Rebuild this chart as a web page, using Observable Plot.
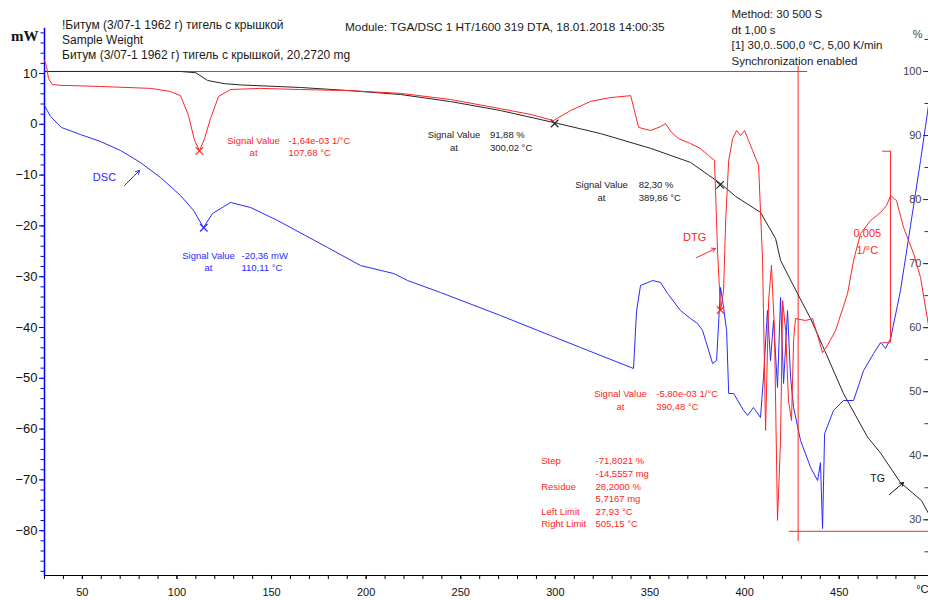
<!DOCTYPE html>
<html><head><meta charset="utf-8">
<script src="https://cdn.jsdelivr.net/npm/d3@7"></script>
<script src="https://cdn.jsdelivr.net/npm/@observablehq/plot@0.6"></script>
<style>
body{margin:0;background:#fff;}
#chart{position:relative;width:928px;height:600px;overflow:hidden;font-family:"Liberation Sans",Arial,sans-serif;background:#fff;}
#chart svg{position:absolute;left:0;top:0;}
.hdr{position:absolute;font-size:11.5px;color:#1a1a1a;white-space:pre;}
</style></head><body><div id="chart"></div>
<script>
// ---------- data (temperature axis °C) ----------
const xDomain = [30, 497.2];
const xLabelTicks = [50, 100, 150, 200, 250, 300, 350, 400, 450];
const yLeftTicks = [-80, -70, -60, -50, -40, -30, -20, -10, 0, 10];
const yRightTicks = [30, 40, 50, 60, 70, 80, 90, 100];

// DSC, mW
const dscT  = [30.0,33.2,39.0,49.0,59.6,70.2,80.7,91.3,101.9,108.8,114.0,118.8,128.3,138.9,153.2,179.6,197.0,214.5,221.9,239.3,271.0,297.4,313.3,341.3,342.9,345.0,351.4,355.6,359.3,366.1,371.4,375.1,377.8,379.4,383.1,385.2,387.3,388.9,390.5,391.6,394.2,399.5,401.6,404.7,408.4,410.0,412.1,413.7,415.3,417.4,419.0,420.6,422.7,424.3,425.9,429.6,434.9,438.6,440.1,441.2,442.3,447.0,452.3,457.6,462.9,468.2,471.9,474.5,477.2,482.4,487.7,493.0,497.2];
const dscMW = [3.70,1.54,-0.63,-2.01,-3.39,-5.16,-7.52,-10.47,-14.02,-16.97,-20.31,-17.56,-15.39,-16.38,-18.94,-24.25,-27.80,-29.37,-30.75,-33.11,-37.64,-41.58,-43.94,-48.07,-36.80,-31.73,-30.75,-31.14,-33.30,-36.65,-38.23,-39.21,-40.59,-42.56,-47.09,-46.50,-32.12,-36.06,-40.59,-52.99,-52.99,-56.34,-57.32,-55.75,-57.72,-49.84,-36.65,-46.50,-38.62,-51.80,-34.10,-51.01,-36.65,-49.84,-55.75,-62.26,-67.57,-70.13,-66.59,-79.57,-60.88,-56.34,-54.37,-54.37,-48.46,-45.11,-42.95,-44.13,-42.16,-32.71,-19.92,-7.13,3.70];

// TG, %
const tgT   = [30.0,101.9,110.0,116.2,125.0,133.6,165.3,191.7,218.2,244.6,271.0,299.6,323.9,350.3,371.4,387.3,395.2,408.4,416.4,419.0,428.0,434.9,441.2,452.3,465.0,471.9,482.4,493.5,497.2];
const tgPct = [100.0,100.0,99.8,98.6,98.1,97.9,97.5,97.0,96.4,95.3,93.9,92.0,90.3,88.0,85.8,82.5,80.5,78.0,73.9,70.5,65.3,61.4,57.2,49.7,42.9,40.4,35.8,33.0,31.0];

// DTG, 10^-3 1/°C
const dtgT = [30.0,31.1,32.1,34.2,38.5,59.6,86.0,96.6,101.9,106.1,109.3,111.9,114.6,117.7,122.0,128.3,144.2,165.3,191.7,218.2,244.6,271.0,286.9,299.0,308.0,318.6,329.2,339.8,341.8,344.0,350.3,355.6,358.2,361.4,365.1,371.4,376.7,380.9,384.1,385.7,387.3,388.9,390.0,391.6,393.7,395.8,397.9,400.0,402.1,404.2,407.4,409.5,411.1,412.7,414.2,415.8,417.4,419.0,420.1,421.7,423.2,424.8,425.9,426.9,432.2,435.9,438.6,441.2,443.8,448.1,454.4,457.6,461.3,466.6,471.9,475.0,477.2,480.3,484.0,489.3,493.0,497.2];
const dtgVal = [0.72,0.56,0.25,0.09,0.07,0.04,-0.01,-0.09,-0.20,-0.72,-1.37,-1.63,-1.32,-0.80,-0.22,-0.04,-0.01,-0.04,-0.07,-0.14,-0.30,-0.54,-0.69,-0.85,-0.59,-0.35,-0.25,-0.20,-0.59,-1.03,-1.11,-1.01,-0.93,-1.16,-1.32,-1.45,-1.58,-1.76,-1.89,-4.24,-5.81,-5.29,-3.46,-1.89,-1.32,-1.11,-1.24,-1.11,-1.37,-1.63,-2.02,-4.50,-8.94,-5.55,-4.63,-6.33,-11.29,-9.20,-5.55,-6.33,-8.16,-8.68,-6.59,-6.02,-6.07,-6.02,-6.46,-6.91,-6.72,-6.33,-5.37,-4.50,-3.80,-3.46,-3.25,-3.07,-2.81,-2.94,-3.64,-4.32,-4.95,-6.20];

// picked points (×)
const dscPicks = [{T:114.2, v:-20.36}];
const tgPicks  = [{T:299.6, v:91.88}, {T:387.1, v:82.30}];
const dtgPicks = [{T:111.9, v:-1.64}, {T:387.3, v:-5.80}];

// annotation texts (label column centre T, value column start T, y in series units)
const dscNotes = [{Tl:116.7, Tv:134.1, v:-27.0, label:"Signal Value\nat", value:"-20,36 mW\n110,11 °C"}];
const tgNotes  = [
  {Tl:246.4, Tv:265.4, v:89.23, label:"Signal Value\nat", value:"91,88 %\n300,02 °C"},
  {Tl:324.4, Tv:344.0, v:81.42, label:"Signal Value\nat", value:"82,30 %\n389,86 °C"}
];
const dtgNotes = [
  {Tl:140.5, Tv:159.0, v:-1.51, label:"Signal Value\nat", value:"-1,64e-03 1/°C\n107,68 °C"},
  {Tl:334.4, Tv:353.3, v:-8.13, label:"Signal Value\nat", value:"-5,80e-03 1/°C\n390,48 °C"}
];
const stepNote = [{Tl:292.5, Tv:321.2, v:34.37,
  label:"Step\n\u00a0\nResidue\n\u00a0\nLeft Limit\nRight Limit",
  value:"-71,8021 %\n-14,5557 mg\n28,2000 %\n5,7167 mg\n27,93 °C\n505,15 °C"}];

// step-evaluation lines (TG %)
const stepH = [{v:100, T1:30, T2:433.3}, {v:28.2, T1:423.6, T2:497.2}];
const stepV = [{T:428.3, v1:100.8, v2:26.6}];
// DTG scale bar 0,005 1/°C
const barV = [{T:477.1, v1:-1.65, v2:-6.65}];
const barH = [{v:-1.65, T1:473.0, T2:477.1}, {v:-6.65, T1:473.0, T2:477.1}];
const barLabel = [{T:464.9, v:-3.96, text:"0,005\n1/°C"}];

// curve labels with arrows
const dscLabel = [{T:61.7, v:-10.47, text:"DSC"}];
const dscArrow = [{T1:72.3, v1:-12.05, T2:80.2, v2:-9.09}];
const dtgLabel = [{T:373.6, v:-3.90, text:"DTG"}];
const dtgArrow = [{T1:374.6, v1:-4.43, T2:384.6, v2:-4.19}];
const tgLabel  = [{T:470.3, v:36.45, text:"TG"}];
const tgArrow  = [{T1:476.6, v1:33.95, T2:484.0, v2:35.82}];

const headerLeft = ["!Битум (3/07-1 1962 г) тигель с крышкой", "Sample Weight", "Битум (3/07-1 1962 г) тигель с крышкой, 20,2720 mg"];
const headerModule = "Module: TGA/DSC 1 HT/1600 319 DTA, 18.01.2018 14:00:35";
const headerRight = ["Method: 30 500 S", "dt 1,00 s", "[1] 30,0..500,0 °C, 5,00 K/min", "Synchronization enabled"];

// ---------- build ----------
const dsc = dscT.map((T, i) => ({T, v: dscMW[i]}));
const tg  = tgT.map((T, i) => ({T, v: tgPct[i]}));
const dtg = dtgT.map((T, i) => ({T, v: dtgVal[i]}));

const RED = "#ff2424", BLUE = "#2a2aff", BLACK = "#262626";
const FONT = '"Liberation Sans", Arial, sans-serif';
const base = (yDomain, yAxis) => ({
  width: 928, height: 600, marginLeft: 44, marginRight: 0, marginTop: 28, marginBottom: 25,
  x: {domain: xDomain, axis: null}, y: {domain: yDomain, axis: yAxis},
  style: {fontFamily: FONT, background: "transparent"}
});
const minus = d => d < 0 ? "\u2212" + (-d) : String(d);
const noteMarks = (notes, color, lh) => [
  Plot.text(notes, {x: "Tl", y: "v", text: "label", textAnchor: "middle", lineAnchor: "middle", lineHeight: lh, fontSize: 9.5, fill: color}),
  Plot.text(notes, {x: "Tv", y: "v", text: "value", textAnchor: "start", lineAnchor: "middle", lineHeight: lh, fontSize: 9.5, fill: color})
];

const plotDSC = Plot.plot({
  ...base([-88.82, 18.86], undefined),
  x: {domain: xDomain},
  marks: [
    Plot.axisX(d3.range(30, 497, 10), {tickSize: 4, tickFormat: () => "", label: null, stroke: "#000"}),
    Plot.axisX(xLabelTicks, {tickSize: 4, tickPadding: 9, fontSize: 11, label: null, stroke: "#000", fill: "#111"}),
    Plot.frame({anchor: "bottom", stroke: "#000", strokeWidth: 1.2}),
    Plot.axisY(d3.range(-88, 19, 2), {tickSize: 3.5, stroke: "#0000ff", tickFormat: () => "", label: null}),
    Plot.axisY(yLeftTicks, {tickSize: 5, tickPadding: 2, stroke: "#0000ff", fill: "#111", fontSize: 13, tickFormat: minus, label: null}),
    Plot.frame({anchor: "left", stroke: "#0000ff", strokeWidth: 1.5}),
    Plot.line(dsc, {x: "T", y: "v", stroke: BLUE, strokeWidth: 1}),
    Plot.dot(dscPicks, {x: "T", y: "v", symbol: "times", r: 3.5, stroke: BLUE, strokeWidth: 1.2}),
    ...noteMarks(dscNotes, BLUE, 1.25),
    Plot.text(dscLabel, {x: "T", y: "v", text: "text", fontSize: 11, fill: BLUE}),
    Plot.arrow(dscArrow, {x1: "T1", y1: "v1", x2: "T2", y2: "v2", stroke: BLUE, strokeWidth: 1, headLength: 6}),
    Plot.text(["mW"], {frameAnchor: "top-left", dx: -6, dy: 2, textAnchor: "end", fontFamily: '"Liberation Serif", serif', fontWeight: "bold", fontSize: 15, fill: "#111"}),
    Plot.text(["°C"], {frameAnchor: "bottom-right", dy: 17, textAnchor: "end", fontSize: 11, fill: "#111"})
  ]
});

const plotTG = Plot.plot({
  ...base([21.30, 106.71], undefined),
  marks: [
    Plot.axisY(d3.range(25, 106, 5), {x: xDomain[1], anchor: "left", tickSize: 3.5, tickFormat: () => "", label: null, stroke: "#333"}),
    Plot.axisY(yRightTicks, {x: xDomain[1], anchor: "left", tickSize: 5, tickPadding: 2, fontSize: 11, label: null, stroke: "#333", fill: "#444"}),
    Plot.text(["%"], {frameAnchor: "top-right", dx: -6, dy: 2, textAnchor: "end", fontSize: 11, fill: "#444"}),
    Plot.ruleY(stepH, {y: "v", x1: "T1", x2: "T2", stroke: RED, strokeWidth: 1}),
    Plot.ruleX(stepV, {x: "T", y1: "v1", y2: "v2", stroke: RED, strokeWidth: 1}),
    Plot.line(tg, {x: "T", y: "v", stroke: BLACK, strokeWidth: 1}),
    Plot.dot(tgPicks, {x: "T", y: "v", symbol: "times", r: 3.5, stroke: BLACK, strokeWidth: 1.2}),
    ...noteMarks(tgNotes, "#222", 1.3),
    Plot.text(stepNote, {x: "Tl", y: "v", text: "label", textAnchor: "start", lineAnchor: "middle", lineHeight: 1.32, fontSize: 9.5, fill: RED}),
    Plot.text(stepNote, {x: "Tv", y: "v", text: "value", textAnchor: "start", lineAnchor: "middle", lineHeight: 1.32, fontSize: 9.5, fill: RED}),
    Plot.text(tgLabel, {x: "T", y: "v", text: "text", fontSize: 10.5, fill: "#111"}),
    Plot.arrow(tgArrow, {x1: "T1", y1: "v1", x2: "T2", y2: "v2", stroke: "#111", strokeWidth: 1, headLength: 6})
  ]
});

const plotDTG = Plot.plot({
  ...base([-12.728, 1.5535], null),
  marks: [
    Plot.line(dtg, {x: "T", y: "v", stroke: RED, strokeWidth: 1}),
    Plot.dot(dtgPicks, {x: "T", y: "v", symbol: "times", r: 3.5, stroke: RED, strokeWidth: 1.2}),
    ...noteMarks(dtgNotes, RED, 1.3),
    Plot.ruleX(barV, {x: "T", y1: "v1", y2: "v2", stroke: RED, strokeWidth: 1}),
    Plot.ruleY(barH, {y: "v", x1: "T1", x2: "T2", stroke: RED, strokeWidth: 1}),
    Plot.text(barLabel, {x: "T", y: "v", text: "text", fontSize: 11, lineHeight: 1.6, lineAnchor: "middle", fill: RED}),
    Plot.text(dtgLabel, {x: "T", y: "v", text: "text", fontSize: 11, fill: RED}),
    Plot.arrow(dtgArrow, {x1: "T1", y1: "v1", x2: "T2", y2: "v2", stroke: RED, strokeWidth: 1, headLength: 6})
  ]
});

const chart = document.getElementById("chart");
chart.append(plotDSC, plotTG, plotDTG);

function hdr(lines, left, top, lh, size) {
  const d = document.createElement("div");
  d.className = "hdr";
  d.style.left = left + "px"; d.style.top = top + "px"; d.style.lineHeight = lh + "px";
  d.style.fontSize = size + "px";
  d.textContent = lines.join("\n");
  chart.append(d);
}
hdr(headerLeft, 62, 17.5, 15, 12);
hdr([headerModule], 345, 20, 15, 11.8);
hdr(headerRight, 731.5, 7.2, 15.6, 11.5);
</script></body></html>
